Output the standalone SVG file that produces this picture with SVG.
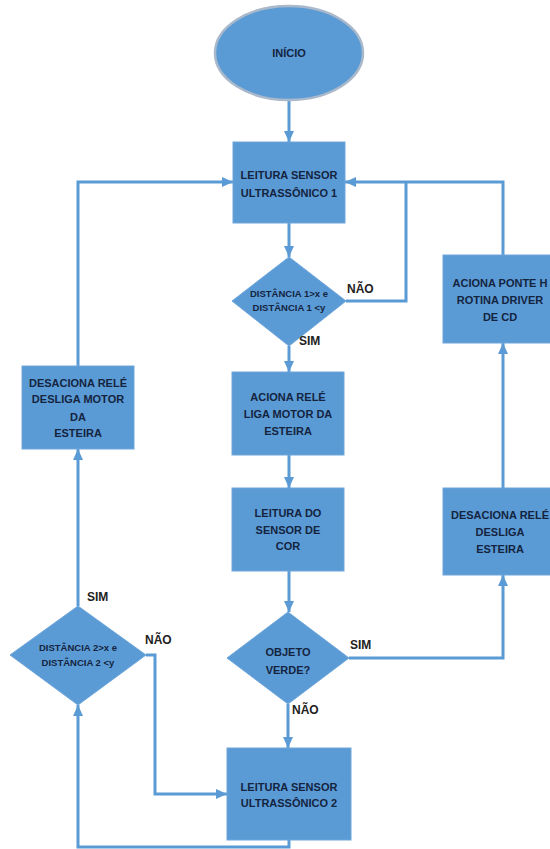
<svg xmlns="http://www.w3.org/2000/svg" width="550" height="849" viewBox="0 0 550 849">
<style>
.n{fill:#5B9BD5;stroke:#6FA6DA;stroke-width:1}
.t{font-family:"Liberation Sans",Arial,sans-serif;font-weight:bold;font-size:11px;fill:#14243F;text-anchor:middle}
.s{font-size:9.5px}
.l{font-family:"Liberation Sans",Arial,sans-serif;font-weight:bold;font-size:12px;fill:#222}
.c{fill:none;stroke:#5B9BD5;stroke-width:3}
</style>
<defs>
<marker id="a" markerUnits="userSpaceOnUse" markerWidth="12" markerHeight="12" viewBox="0 0 12 12" refX="11" refY="6" orient="auto">
<path d="M0,1 L11,6 L0,11 Z" fill="#5B9BD5"/>
</marker>
</defs>
<rect width="550" height="849" fill="#fff"/>
<g id="connectors">
<path class="c" d="M289,100 V142" marker-end="url(#a)"/>
<path class="c" d="M289,223 V257" marker-end="url(#a)"/>
<path class="c" d="M346,301 H406 V182"/>
<path class="c" d="M503,255 V182 H345" marker-end="url(#a)"/>
<path class="c" d="M289,346 V372" marker-end="url(#a)"/>
<path class="c" d="M289,455 V488" marker-end="url(#a)"/>
<path class="c" d="M289,571 V612" marker-end="url(#a)"/>
<path class="c" d="M349,658 H503 V575" marker-end="url(#a)"/>
<path class="c" d="M503,488 V343" marker-end="url(#a)"/>
<path class="c" d="M288,704 V748" marker-end="url(#a)"/>
<path class="c" d="M289,840 V847 H78 V705" marker-end="url(#a)"/>
<path class="c" d="M146,655 H155 V794 H227" marker-end="url(#a)"/>
<path class="c" d="M78,606 V449" marker-end="url(#a)"/>
<path class="c" d="M78,366 V182 H233" marker-end="url(#a)"/>
</g>
<g id="inicio">
<ellipse cx="289" cy="53" rx="74" ry="47" fill="#5B9BD5" stroke="#A9B9CB" stroke-width="2.5"/>
<text class="t" x="289" y="57">INÍCIO</text>
</g>
<g id="leitura1">
<rect class="n" x="233" y="142" width="112" height="81"/>
<text class="t" x="289" y="179">LEITURA SENSOR</text>
<text class="t" x="289" y="197">ULTRASSÔNICO 1</text>
</g>
<g id="dist1">
<polygon class="n" points="289,257 346,301 289,346 232,301"/>
<text class="t s" x="289" y="297">DISTÂNCIA 1&gt;x e</text>
<text class="t s" x="289" y="311">DISTÂNCIA 1 &lt;y</text>
<text class="l" x="347" y="293">NÃO</text>
<text class="l" x="299" y="345">SIM</text>
</g>
<g id="aciona">
<rect class="n" x="232" y="372" width="112" height="83"/>
<text class="t" x="288" y="401">ACIONA RELÉ</text>
<text class="t" x="288" y="418">LIGA MOTOR DA</text>
<text class="t" x="288" y="435">ESTEIRA</text>
</g>
<g id="leituracor">
<rect class="n" x="232" y="488" width="112" height="83"/>
<text class="t" x="288" y="517">LEITURA DO</text>
<text class="t" x="288" y="534">SENSOR DE</text>
<text class="t" x="288" y="550">COR</text>
</g>
<g id="objeto">
<polygon class="n" points="288,612 349,658 288,704 227,658"/>
<text class="t" x="288" y="656">OBJETO</text>
<text class="t" x="288" y="674">VERDE?</text>
<text class="l" x="350" y="649">SIM</text>
<text class="l" x="292" y="714">NÃO</text>
</g>
<g id="leitura2">
<rect class="n" x="227" y="748" width="124" height="92"/>
<text class="t" x="289" y="791">LEITURA SENSOR</text>
<text class="t" x="289" y="807">ULTRASSÔNICO 2</text>
</g>
<g id="dist2">
<polygon class="n" points="78,606 146,655 78,705 10,655"/>
<text class="t s" x="78" y="651">DISTÂNCIA 2&gt;x e</text>
<text class="t s" x="78" y="666">DISTÂNCIA 2 &lt;y</text>
<text class="l" x="87" y="601">SIM</text>
<text class="l" x="145" y="644">NÃO</text>
</g>
<g id="desacionamotor">
<rect class="n" x="22" y="366" width="112" height="83"/>
<text class="t" x="78" y="387">DESACIONA RELÉ</text>
<text class="t" x="78" y="403">DESLIGA MOTOR</text>
<text class="t" x="78" y="421">DA</text>
<text class="t" x="78" y="437">ESTEIRA</text>
</g>
<g id="acionaponte">
<rect class="n" x="443" y="255" width="114" height="88"/>
<text class="t" x="500" y="287">ACIONA PONTE H</text>
<text class="t" x="500" y="304">ROTINA DRIVER</text>
<text class="t" x="500" y="321">DE CD</text>
</g>
<g id="desacionaesteira">
<rect class="n" x="443" y="488" width="114" height="87"/>
<text class="t" x="500" y="519">DESACIONA RELÉ</text>
<text class="t" x="500" y="536">DESLIGA</text>
<text class="t" x="500" y="553">ESTEIRA</text>
</g>
</svg>
